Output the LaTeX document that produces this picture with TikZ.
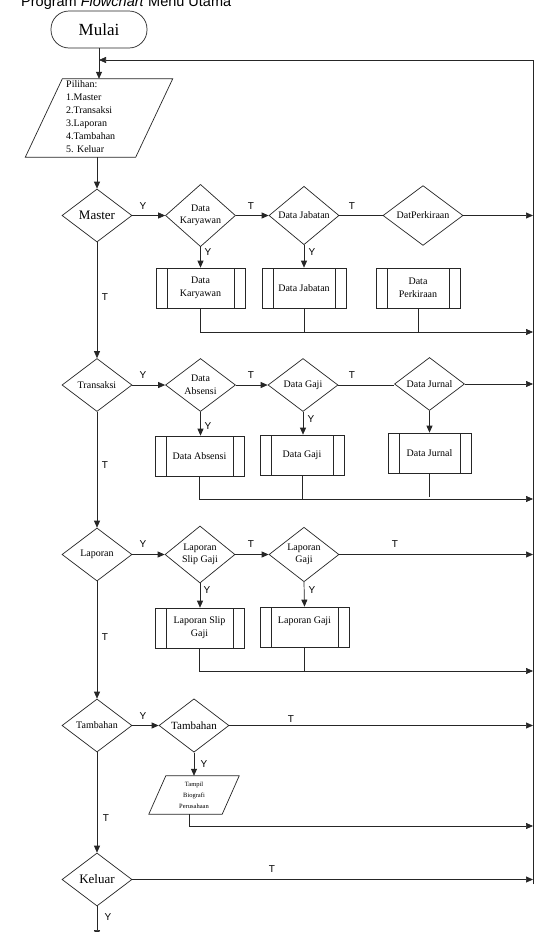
\documentclass[tikz,border=0pt]{standalone}
\usepackage{fontspec}
\setmainfont{Liberation Serif}
\newfontfamily\arial{Liberation Sans}
\usetikzlibrary{shapes.geometric,arrows.meta}
\begin{document}
\begin{tikzpicture}[x=1pt,y=-1pt,
 line/.style={draw=black!85, line width=0.7pt},
 arr/.style={line, -{Triangle[length=7pt,width=6pt]}},
 dec/.style={diamond, draw=black!85, line width=0.7pt, inner sep=0pt, minimum width=70pt, minimum height=53pt, align=center, font=\fontsize{10}{12.5}\selectfont},
 proc/.style={rectangle, draw=black!85, line width=0.7pt, minimum height=40pt, align=center, font=\fontsize{10}{13}\selectfont,
   path picture={\draw[black!85, line width=0.7pt]
     ([xshift=11pt]path picture bounding box.north west) -- ([xshift=11pt]path picture bounding box.south west)
     ([xshift=-11pt]path picture bounding box.north east) -- ([xshift=-11pt]path picture bounding box.south east);}},
 lbl/.style={font=\arial\fontsize{10}{10}\selectfont, inner sep=0pt}
]
\clip (0,0) rectangle (539,932);
\fill[white] (0,0) rectangle (539,932);

\node[anchor=base west, inner sep=0pt, font=\arial\fontsize{14.5}{15}\selectfont] (title) at (21,6) {Program \textit{Flowchart} Menu Utama};

% start
\node[draw=black!85, line width=0.7pt, rounded corners=18pt, minimum width=96pt, minimum height=37pt, font=\fontsize{17}{17}\selectfont] (mulai) at (99,29.5) {Mulai};

% Pilihan parallelogram
\node[minimum width=147pt, minimum height=78pt, inner sep=0pt] (pil) at (99,118) {};
\draw[line] ([xshift=37pt]pil.north west) -- (pil.north east) -- ([xshift=-37pt]pil.south east) -- (pil.south west) -- cycle;
\node[anchor=north west, align=left, inner sep=0pt, font=\fontsize{10}{13}\selectfont] (piltext) at (66,80.5)
 {Pilihan:\\ 1.Master\\ 2.Transaksi\\ 3.Laporan\\ 4.Tambahan\\ 5. Keluar};

% right return line
\coordinate (rtop) at (533,60);
\coordinate (rbot) at (533,884);
\draw[line] (rbot) -- (rtop);
\draw[arr] (rtop) -- (rtop -| mulai.south);
\draw[arr] (mulai.south) -- (pil.north);

% Row 1: Master
\node[dec, font=\fontsize{13}{13}\selectfont] (master) at (97,215.5) {Master};
\node[dec] (dk) at (200.5,215.5) {Data\\Karyawan};
\node[dec] (dj) at (304,215.5) {Data Jabatan};
\node[dec, minimum width=80pt] (dp) at (423,215.5) {DatPerkiraan};
\draw[arr] (pil.south -| master.north) -- (master.north);
\draw[arr] (master.east) -- (dk.west);
\draw[arr] (dk.east) -- (dj.west);
\draw[line] (dj.east) -- (dp.west);
\draw[arr] (dp.east) -- (dp.east -| rtop);
\node[proc, minimum width=89pt] (bK) at (200.5,288) {Data\\Karyawan};
\node[proc, minimum width=84pt] (bJ) at (304,288) {Data Jabatan};
\node[proc, minimum width=84pt] (bP) at (418,288) {Data\\Perkiraan};
\draw[arr] (dk.south) -- (bK.north);
\draw[arr] (dj.south) -- (bJ.north);
\coordinate (m1) at (200.5,332);
\draw[arr] (bK.south) -- (m1) -- (m1 -| rtop);
\draw[line] (bJ.south) -- (bJ.south |- m1);
\draw[line] (bP.south) -- (bP.south |- m1);
\node[lbl] at (143,206) {Y};
\node[lbl] at (251,206) {T};
\node[lbl] at (352,206) {T};
\node[lbl] at (208,252) {Y};
\node[lbl] at (312,252) {Y};
\node[lbl] at (105,297) {T};

% Row 2: Transaksi
\node[dec] (tr) at (97,385) {Transaksi};
\node[dec] (da) at (200.5,385) {Data\\Absensi};
\node[dec] (dg) at (303,385) {Data Gaji};
\node[dec] (dju) at (429.5,384) {Data Jurnal};
\draw[arr] (master.south) -- (tr.north);
\draw[arr] (tr.east) -- (da.west);
\draw[arr] (da.east) -- (dg.west);
\draw[line] (dg.east) -- (dg.east -| dju.west);
\draw[arr] (dju.east) -- (dju.east -| rtop);
\node[proc, minimum width=89pt] (bA) at (199.5,456) {Data Absensi};
\node[proc, minimum width=84pt] (bG) at (302,455) {Data Gaji};
\node[proc, minimum width=83pt] (bJu) at (429.5,453) {Data Jurnal};
\draw[arr] (da.south) -- (da.south |- bA.north);
\draw[arr] (dg.south) -- (dg.south |- bG.north);
\draw[arr] (dju.south) -- (dju.south |- bJu.north);
\coordinate (m2) at (199.5,499);
\draw[arr] (bA.south) -- (m2) -- (m2 -| rtop);
\draw[line] (bG.south) -- (bG.south |- m2);
\draw[line] (bJu.south) -- ([yshift=2pt]bJu.south |- m2);
\node[lbl] at (143,375) {Y};
\node[lbl] at (251,375) {T};
\node[lbl] at (352,375) {T};
\node[lbl] at (208,426) {Y};
\node[lbl] at (311,419) {Y};
\node[lbl] at (105,465) {T};

% Row 3: Laporan
\node[dec] (lap) at (97,554.5) {Laporan};
\node[dec] (lsg) at (200,554.5) {Laporan\\Slip Gaji};
\node[dec] (lg) at (304,554.5) {Laporan\\Gaji};
\draw[arr] (tr.south) -- (lap.north);
\draw[arr] (lap.east) -- (lsg.west);
\draw[arr] (lsg.east) -- (lg.west);
\draw[arr] (lg.east) -- (lg.east -| rtop);
\node[proc, minimum width=89pt] (bLS) at (199.5,628) {Laporan Slip\\Gaji};
\node[proc, minimum width=89pt] (bLG) at (304.5,627) {Laporan Gaji\\[0pt]~};
\draw[arr] (lsg.south) -- (lsg.south |- bLS.north);
\draw[arr] (lg.south) -- (bLG.north);
\coordinate (m3) at (199.5,671);
\draw[arr] (bLS.south) -- (m3) -- (m3 -| rtop);
\draw[line] (bLG.south) -- (bLG.south |- m3);
\node[lbl] at (143,544) {Y};
\node[lbl] at (251,544) {T};
\node[lbl] at (395,544) {T};
\node[lbl] at (207,590) {Y};
\node[lbl] at (312,590) {Y};
\node[lbl] at (105,637) {T};

% Row 4: Tambahan
\node[dec] (tam) at (97,725.5) {Tambahan};
\node[dec, font=\fontsize{11}{12}\selectfont] (tam2) at (194,725.5) {Tambahan};
\draw[arr] (lap.south) -- (tam.north);
\draw[arr] (tam.east) -- (tam2.west);
\draw[arr] (tam2.east) -- (tam2.east -| rtop);
\node[minimum width=90pt, minimum height=38pt, inner sep=0pt] (tb) at (194,795) {};
\draw[line] ([xshift=17pt]tb.north west) -- (tb.north east) -- ([xshift=-17pt]tb.south east) -- (tb.south west) -- cycle;
\node[align=center, inner sep=0pt, font=\fontsize{6.5}{11}\selectfont] (tbtext) at (194,795) {Tampil\\Biografi\\Perusahaan};
\draw[arr] (tam2.south) -- (tb.north);
\coordinate (m4) at (189,826);
\draw[arr] ([xshift=-5pt]tb.south) -- (m4) -- (m4 -| rtop);
\node[lbl] at (143,716) {Y};
\node[lbl] at (291,719) {T};
\node[lbl] at (204,764) {Y};
\node[lbl] at (106,818) {T};

% Keluar
\node[dec, font=\fontsize{13}{13}\selectfont] (kel) at (97,879.5) {Keluar};
\draw[arr] (tam.south) -- (kel.north);
\draw[arr] (kel.east) -- (kel.east -| rtop);
\coordinate (kend) at (97,937);
\draw[arr] (kel.south) -- (kend);
\node[lbl] at (272,869) {T};
\node[lbl] at (108,917) {Y};
\end{tikzpicture}
\end{document}
